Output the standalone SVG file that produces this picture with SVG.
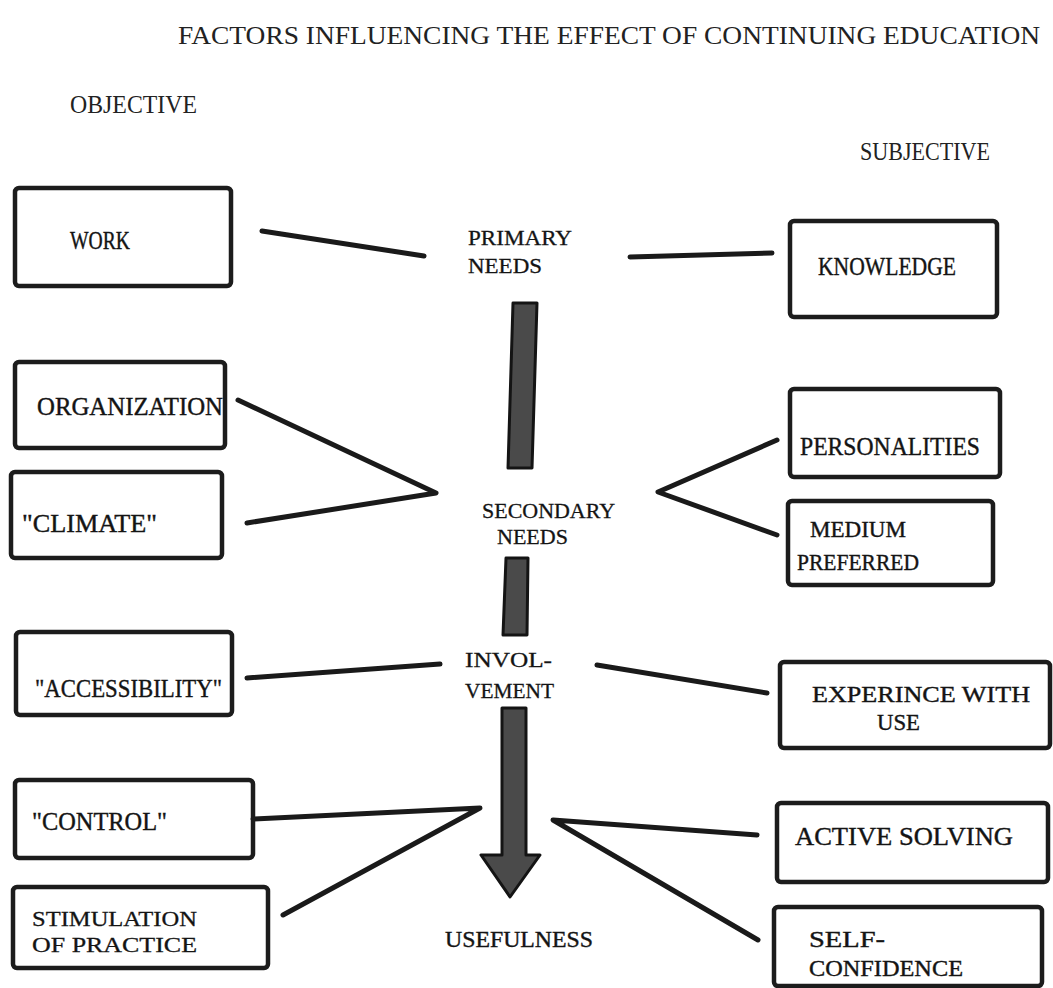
<svg xmlns="http://www.w3.org/2000/svg" width="1053" height="988" viewBox="0 0 1053 988">
<style>
  .bg{fill:#ffffff}
  .box{fill:none;stroke:#1c1c1c;stroke-width:4.5;stroke-linejoin:round}
  .t{font-family:"Liberation Serif","DejaVu Serif",serif;font-size:26px;fill:#141414;stroke:#141414;stroke-width:0.4}
  .m{font-family:"Liberation Serif","DejaVu Serif",serif;font-size:24px;fill:#141414;stroke:#141414;stroke-width:0.4}
  .s{font-family:"Liberation Serif","DejaVu Serif",serif;font-size:22px;fill:#141414;stroke:#141414;stroke-width:0.3}
  .h{font-family:"Liberation Serif","DejaVu Serif",serif;font-size:25px;fill:#222}
  .c{fill:none;stroke:#1a1a1a;stroke-width:5;stroke-linecap:round;stroke-linejoin:round}
  .bar{fill:#4a4a4a;stroke:#141414;stroke-width:3;stroke-linejoin:round}
</style>
<rect class="bg" x="0" y="0" width="1053" height="988"/>

<g id="title">
  <text class="h" x="178" y="44" textLength="862" lengthAdjust="spacingAndGlyphs">FACTORS INFLUENCING THE EFFECT OF CONTINUING EDUCATION</text>
  <text class="h" x="70" y="113" textLength="127" lengthAdjust="spacingAndGlyphs">OBJECTIVE</text>
  <text class="h" x="860" y="160" textLength="130" lengthAdjust="spacingAndGlyphs">SUBJECTIVE</text>
</g>

<g id="connectors">
  <line class="c" x1="262" y1="231" x2="424" y2="256"/>
  <line class="c" x1="630" y1="257" x2="772" y2="253"/>
  <polyline class="c" points="238,400 436,493 247,523"/>
  <polyline class="c" points="777,440 658,492 777,535"/>
  <line class="c" x1="247" y1="678" x2="440" y2="664"/>
  <line class="c" x1="597" y1="665" x2="767" y2="693"/>
  <polyline class="c" points="253,819 480,808 283,915"/>
  <polyline class="c" points="757,835 553,820 758,940"/>
</g>

<g id="flow-arrows">
  <polygon class="bar" points="513,303 537,303 532,468 508,468"/>
  <polygon class="bar" points="506,558 528,558 527,635 503,635"/>
  <polygon class="bar" points="502,708 526,708 526,855 540,855 510,897 481,855 502,855"/>
</g>

<g id="primary-needs">
  <text class="s" x="468" y="245" textLength="104" lengthAdjust="spacingAndGlyphs">PRIMARY</text>
  <text class="s" x="468" y="273" textLength="74" lengthAdjust="spacingAndGlyphs">NEEDS</text>
</g>
<g id="secondary-needs">
  <text class="s" x="482" y="518" textLength="133" lengthAdjust="spacingAndGlyphs">SECONDARY</text>
  <text class="s" x="497" y="544" textLength="71" lengthAdjust="spacingAndGlyphs">NEEDS</text>
</g>
<g id="involvement">
  <text class="s" x="465" y="667" textLength="87" lengthAdjust="spacingAndGlyphs">INVOL-</text>
  <text class="s" x="465" y="698" textLength="89" lengthAdjust="spacingAndGlyphs">VEMENT</text>
</g>
<g id="usefulness">
  <text class="m" x="445" y="947" textLength="148" lengthAdjust="spacingAndGlyphs">USEFULNESS</text>
</g>

<g id="work">
  <rect class="box" x="15" y="188" width="216" height="98" rx="4"/>
  <text class="t" x="70" y="249" textLength="60" lengthAdjust="spacingAndGlyphs">WORK</text>
</g>
<g id="organization">
  <rect class="box" x="15" y="362" width="210" height="86" rx="4"/>
  <text class="t" x="37" y="415" textLength="186" lengthAdjust="spacingAndGlyphs">ORGANIZATION</text>
</g>
<g id="climate">
  <rect class="box" x="11" y="472" width="211" height="86" rx="4"/>
  <text class="t" x="22" y="532" textLength="135" lengthAdjust="spacingAndGlyphs">"CLIMATE"</text>
</g>
<g id="accessibility">
  <rect class="box" x="16" y="632" width="216" height="83" rx="4"/>
  <text class="t" x="35" y="697" textLength="187" lengthAdjust="spacingAndGlyphs">"ACCESSIBILITY"</text>
</g>
<g id="control">
  <rect class="box" x="15" y="780" width="238" height="78" rx="4"/>
  <text class="t" x="32" y="830" textLength="135" lengthAdjust="spacingAndGlyphs">"CONTROL"</text>
</g>
<g id="stimulation">
  <rect class="box" x="13" y="887" width="255" height="81" rx="4"/>
  <text class="s" x="32" y="926" textLength="165" lengthAdjust="spacingAndGlyphs">STIMULATION</text>
  <text class="s" x="32" y="952" textLength="165" lengthAdjust="spacingAndGlyphs">OF PRACTICE</text>
</g>

<g id="knowledge">
  <rect class="box" x="790" y="221" width="207" height="96" rx="4"/>
  <text class="t" x="818" y="275" textLength="138" lengthAdjust="spacingAndGlyphs">KNOWLEDGE</text>
</g>
<g id="personalities">
  <rect class="box" x="790" y="389" width="210" height="88" rx="4"/>
  <text class="t" x="800" y="455" textLength="180" lengthAdjust="spacingAndGlyphs">PERSONALITIES</text>
</g>
<g id="medium-preferred">
  <rect class="box" x="788" y="501" width="205" height="84" rx="4"/>
  <text class="m" x="810" y="537" textLength="96" lengthAdjust="spacingAndGlyphs">MEDIUM</text>
  <text class="m" x="797" y="570" textLength="122" lengthAdjust="spacingAndGlyphs">PREFERRED</text>
</g>
<g id="experience">
  <rect class="box" x="780" y="662" width="270" height="86" rx="4"/>
  <text class="m" x="812" y="702" textLength="218" lengthAdjust="spacingAndGlyphs">EXPERINCE WITH</text>
  <text class="m" x="877" y="730" textLength="43" lengthAdjust="spacingAndGlyphs">USE</text>
</g>
<g id="active-solving">
  <rect class="box" x="777" y="803" width="271" height="79" rx="4"/>
  <text class="t" x="795" y="845" textLength="218" lengthAdjust="spacingAndGlyphs">ACTIVE SOLVING</text>
</g>
<g id="self-confidence">
  <rect class="box" x="774" y="907" width="268" height="79" rx="4"/>
  <text class="m" x="809" y="947" textLength="76" lengthAdjust="spacingAndGlyphs">SELF-</text>
  <text class="m" x="809" y="976" textLength="154" lengthAdjust="spacingAndGlyphs">CONFIDENCE</text>
</g>
</svg>
